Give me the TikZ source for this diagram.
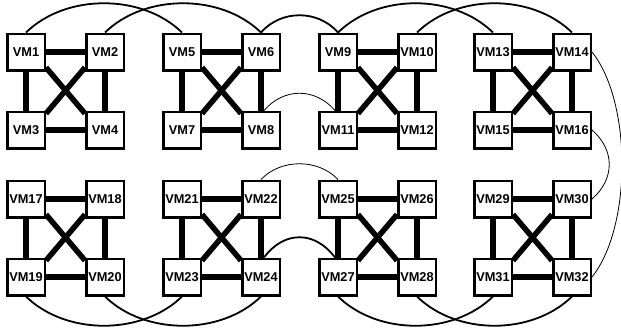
\documentclass[tikz,border=0pt]{standalone}
\usepackage{fontspec}
\setmainfont{Liberation Sans}
\usepackage{tikz}
\usetikzlibrary{positioning}

\tikzset{
  vm/.style={draw, fill=white, line width=2.5pt, inner sep=0pt,
    minimum width=37.5pt, minimum height=36.5pt,
    font=\fontsize{12.8}{14}\selectfont\bfseries},
  link/.style={line width=5.5pt},
  wire/.style={line width=1.8pt},
  thin wire/.style={line width=0.8pt}
}

\begin{document}
\begin{tikzpicture}[x=1pt, y=-1pt, node distance=39pt]
  \useasboundingbox (0,0) rectangle (621,335);
  % one block of four VMs per group
  \foreach \g/\gx/\gy in {0/26/52, 1/182/52, 2/338/52, 3/493/52,
                          4/26/199, 5/182/199, 6/338/199, 7/493/199} {
    \pgfmathtruncatemacro{\a}{4*\g+1}
    \pgfmathtruncatemacro{\b}{4*\g+2}
    \pgfmathtruncatemacro{\c}{4*\g+3}
    \pgfmathtruncatemacro{\d}{4*\g+4}
    \node [vm] (vm\a) at (\gx,\gy) {VM\a};
    \node [vm, right=of vm\a] (vm\b) {VM\b};
    \node [vm, below=of vm\a] (vm\c) {VM\c};
    \node [vm, below=of vm\b] (vm\d) {VM\d};
    \draw [link] (vm\a) -- (vm\b); \draw [link] (vm\c) -- (vm\d);
    \draw [link] (vm\a) -- (vm\c); \draw [link] (vm\b) -- (vm\d);
    \draw [link] ([yshift=4pt]vm\a.south east) -- ([yshift=-3pt]vm\d.north west);
    \draw [link] ([yshift=4pt]vm\b.south west) -- ([yshift=-3pt]vm\c.north east);
  }
  % arcs between the groups
  \draw [wire] (vm1.north) .. controls +(40,-39) and +(-40,-39) .. (vm5.north);
  \draw [wire] (vm2.north) .. controls +(40,-39) and +(-40,-39) .. (vm6.north);
  \draw [wire] (vm9.north) .. controls +(40,-39) and +(-40,-39) .. (vm13.north);
  \draw [wire] (vm10.north) .. controls +(40,-39) and +(-40,-39) .. (vm14.north);
  \draw [wire] (vm6.north) .. controls +(20,-23) and +(-20,-23) .. (vm9.north);
  \draw [thin wire] ([xshift=3pt]vm8.north) .. controls +(20,-23) and +(-20,-23) .. ([xshift=-3pt]vm11.north);
  \draw [thin wire] (vm22.north) .. controls +(20,-21) and +(-20,-21) .. (vm25.north);
  \draw [wire] ([xshift=3pt]vm24.north) .. controls +(20,-27) and +(-20,-27) .. ([xshift=-3pt]vm27.north);
  \draw [wire] (vm19.south) .. controls +(40,39) and +(-40,39) .. (vm23.south);
  \draw [wire] (vm20.south) .. controls +(40,39) and +(-40,39) .. (vm24.south);
  \draw [wire] (vm27.south) .. controls +(40,39) and +(-40,39) .. (vm31.south);
  \draw [wire] (vm28.south) .. controls +(40,39) and +(-40,39) .. (vm32.south);
  \draw [thin wire] (vm14.east) .. controls +(40,50) and +(40,-50) .. (vm32.east);
  \draw [thin wire] (vm16.east) .. controls +(23,20) and +(23,-20) .. (vm30.east);
\end{tikzpicture}
\end{document}
